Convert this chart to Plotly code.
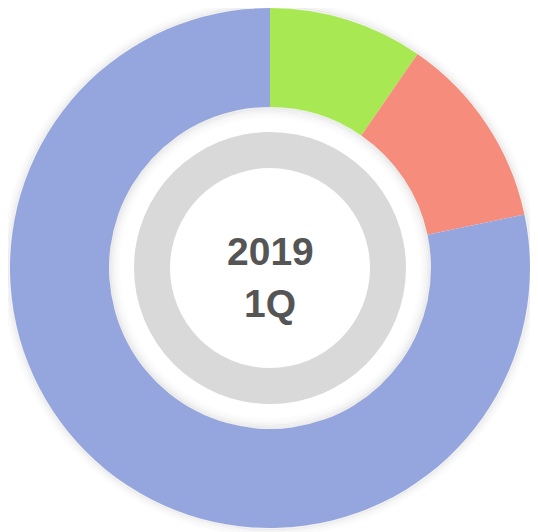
import plotly.graph_objects as go

categories = ["A", "B", "C"]
values = [9.6, 12.1, 78.3]
colors = ["#a8e852", "#f68c7b", "#95a5de"]
center_lines = ["2019", "1Q"]

# page has an 8px body margin, so the figure is sized to fit the window
W, H = 530, 524
ML, MR, MT, MB = 2, 8, 0, 4
PW = W - ML - MR  # 520
R_OUT = PW / 2
R_HOLE = 161
R_RING_OUT = 136
R_RING_IN = 100

fig = go.Figure()
fig.add_trace(go.Pie(
    labels=categories, values=values, sort=False, direction="clockwise",
    rotation=0, hole=R_HOLE / R_OUT, marker=dict(colors=colors, line=dict(width=0)),
    textinfo="none", hoverinfo="label+percent", showlegend=False,
    domain=dict(x=[0, 1], y=[0, 1]),
))
d = R_RING_OUT / PW
fig.add_trace(go.Pie(
    labels=["ring"], values=[1], hole=R_RING_IN / R_RING_OUT,
    marker=dict(colors=["#d9d9d9"], line=dict(width=0)),
    textinfo="none", hoverinfo="skip", showlegend=False,
    domain=dict(x=[0.5 - d, 0.5 + d], y=[0.5 - d, 0.5 + d]),
))

shapes = []
# outer soft shadow
for i, op in enumerate([0.05, 0.035, 0.025, 0.015, 0.01]):
    r = (R_OUT + 1 + i * 1.6) / PW
    shapes.append(dict(type="circle", xref="paper", yref="paper",
                       x0=0.5 - r, x1=0.5 + r, y0=0.5 - r, y1=0.5 + r,
                       line=dict(color=f"rgba(0,0,0,{op})", width=2.5), layer="below"))
# inner hole shadow
for i, op in enumerate([0.07, 0.05, 0.035, 0.025, 0.015, 0.008]):
    r = (R_HOLE - 1 - i * 1.8) / PW
    shapes.append(dict(type="circle", xref="paper", yref="paper",
                       x0=0.5 - r, x1=0.5 + r, y0=0.5 - r, y1=0.5 + r,
                       line=dict(color=f"rgba(0,0,0,{op})", width=2.2), layer="above"))

font = dict(family="Liberation Sans, Arial, sans-serif", size=39, color="#555555")
line_y = [0.5308, 0.4308]
annotations = [dict(text=f"<b>{s}</b>", x=0.5, y=yy, xref="paper", yref="paper",
                    showarrow=False, yanchor="middle", font=font)
               for s, yy in zip(center_lines, line_y)]

fig.update_layout(
    width=W, height=H, margin=dict(l=ML, r=MR, t=MT, b=MB),
    paper_bgcolor="white", plot_bgcolor="white", shapes=shapes,
    annotations=annotations,
)
fig.write_html("out.html")
